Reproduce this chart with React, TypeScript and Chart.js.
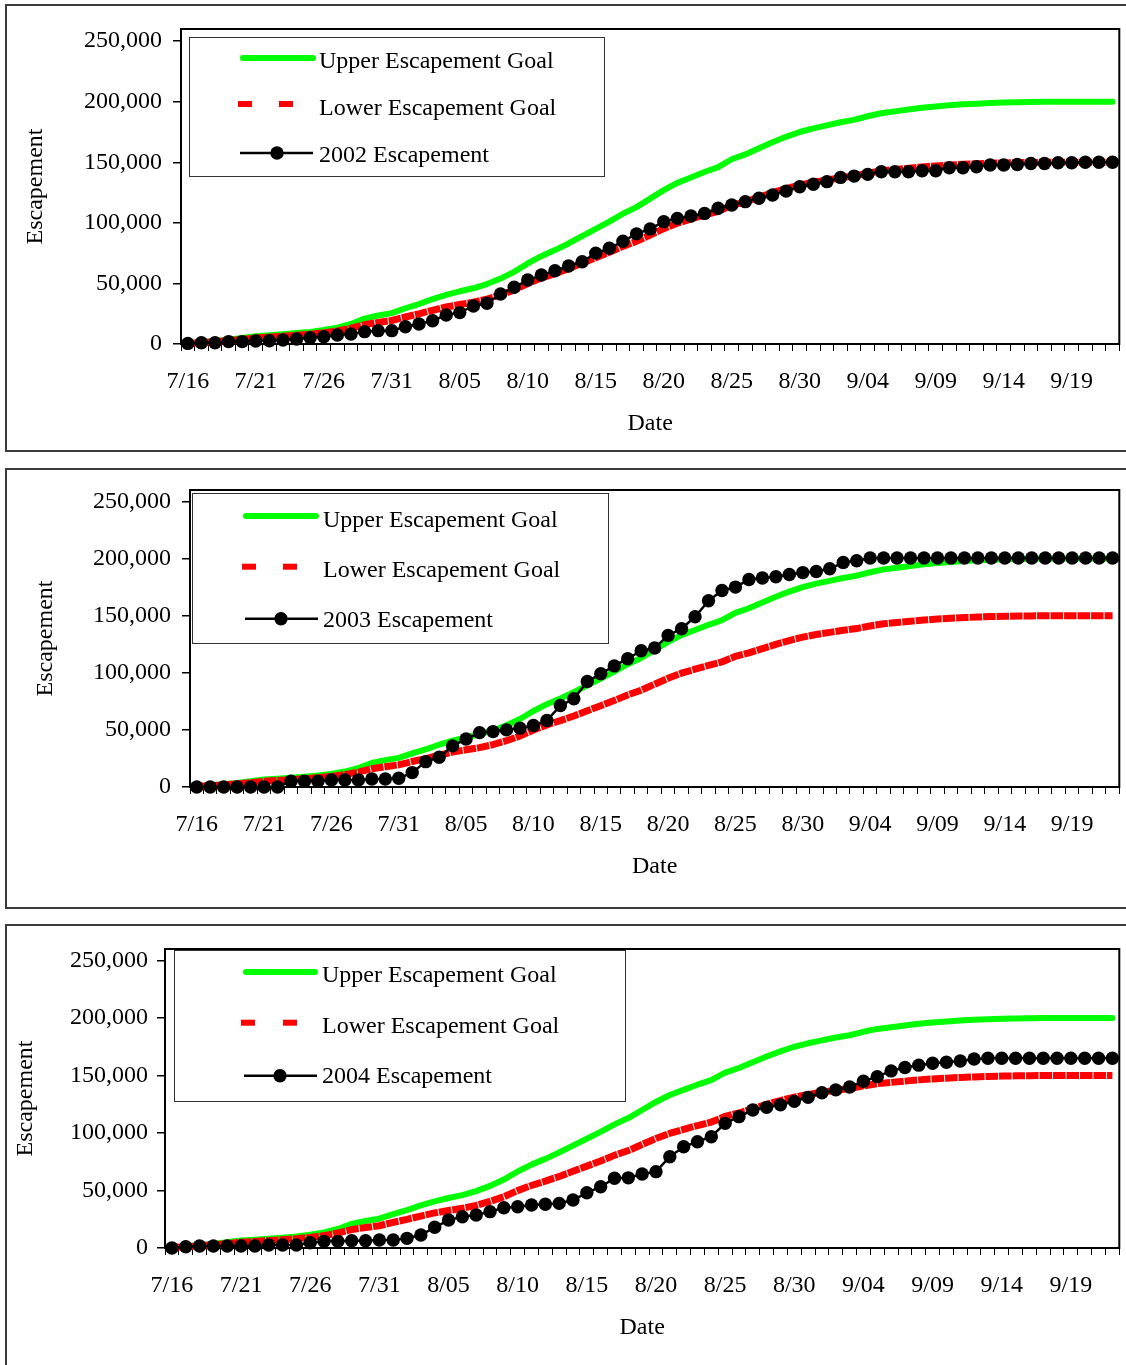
import React, { useEffect, useRef } from 'react';
import { Chart, registerables } from 'chart.js';

Chart.register(...registerables);

// ---------------- DATA ----------------
const CATEGORIES: string[] = [
  '7/16', '7/17', '7/18', '7/19', '7/20', '7/21', '7/22', '7/23', '7/24', '7/25',
  '7/26', '7/27', '7/28', '7/29', '7/30', '7/31',
  '8/01', '8/02', '8/03', '8/04', '8/05', '8/06', '8/07', '8/08', '8/09', '8/10',
  '8/11', '8/12', '8/13', '8/14', '8/15', '8/16', '8/17', '8/18', '8/19', '8/20',
  '8/21', '8/22', '8/23', '8/24', '8/25', '8/26', '8/27', '8/28', '8/29', '8/30', '8/31',
  '9/01', '9/02', '9/03', '9/04', '9/05', '9/06', '9/07', '9/08', '9/09', '9/10',
  '9/11', '9/12', '9/13', '9/14', '9/15', '9/16', '9/17', '9/18', '9/19', '9/20',
  '9/21', '9/22',
];

const TICK_LABELS: string[] = [
  '7/16', '7/21', '7/26', '7/31', '8/05', '8/10', '8/15', '8/20', '8/25', '8/30',
  '9/04', '9/09', '9/14', '9/19',
];

const Y_TICK_VALUES: number[] = [0, 50000, 100000, 150000, 200000, 250000];

const UPPER_GOAL: number[] = [
  500, 1500, 2500, 3500, 5000, 6500, 7200, 8000, 9000, 10000,
  11500, 13500, 16500, 21000, 23500, 25500, 29500, 33000, 37000, 40500,
  43500, 46000, 49500, 54000, 59500, 66500, 72500, 77500, 83000, 89000,
  95000, 101000, 107500, 113000, 120000, 127000, 133000, 137500, 142000, 146000,
  152500, 156500, 161500, 166500, 171000, 175000, 178000, 180500, 183000, 185000,
  188000, 190500, 192000, 193500, 195000, 196000, 197000, 197800, 198400, 198900,
  199300, 199600, 199800, 200000, 200000, 200000, 200000, 200000, 200000,
];

const LOWER_GOAL: number[] = [
  400, 1100, 1900, 2700, 3800, 5000, 5700, 6400, 7200, 8100,
  9200, 10800, 13000, 16000, 17800, 19400, 22300, 24900, 27800, 30500,
  32600, 34500, 37100, 40500, 44600, 49900, 54400, 58100, 62200, 66700,
  71200, 75700, 80600, 84700, 90000, 95200, 99700, 103100, 106500, 109500,
  114400, 117400, 121100, 124900, 128200, 131200, 133500, 135400, 137200, 138700,
  141000, 142900, 144000, 145100, 146200, 147000, 147700, 148300, 148800, 149200,
  149500, 149700, 149800, 150000, 150000, 150000, 150000, 150000, 150000,
];

const ESC_2002: number[] = [
  500, 1000, 1000, 2000, 2000, 2500, 2700, 3300, 4100, 5200,
  6000, 7400, 8300, 10200, 11000, 11000, 14300, 16500, 19200, 23900,
  25900, 31400, 33600, 41300, 46800, 52800, 56900, 60500, 64400, 67900,
  75000, 79000, 84800, 90900, 95000, 100900, 103700, 105600, 107800, 112000,
  114700, 117500, 120300, 123000, 126200, 129800, 131800, 134000, 137500, 138600,
  140000, 142200, 142200, 142200, 143000, 143000, 145500, 145500, 146300, 147700,
  147700, 148200, 149000, 149000, 149600, 149600, 150000, 150000, 150000,
];

const ESC_2003: number[] = [
  0, 0, 0, 0, 0, 0, 0, 5000, 5000, 5000,
  6100, 6100, 6100, 7000, 7000, 7600, 12600, 22200, 26000, 36000,
  42000, 47600, 48500, 50000, 51500, 53800, 58200, 71300, 77200, 92400,
  99100, 106000, 112300, 119300, 121700, 132700, 138600, 149000, 163000, 172000,
  175000, 181600, 183000, 184000, 186000, 187700, 188600, 191000, 196500, 198000,
  200500, 200500, 200500, 200500, 200500, 200500, 200500, 200500, 200500, 200500,
  200500, 200500, 200500, 200500, 200500, 200500, 200500, 200500, 200500,
];

const ESC_2004: number[] = [
  0, 1100, 1700, 1700, 1700, 1700, 1700, 2600, 2600, 2600,
  4600, 5800, 5800, 6400, 6400, 7000, 7000, 8400, 11300, 18000,
  24300, 27200, 28700, 31600, 35000, 35900, 37400, 38000, 38800, 41700,
  48000, 53300, 60600, 61000, 64300, 66400, 79400, 88000, 92400, 96800,
  108400, 114200, 120000, 122300, 124500, 127500, 131000, 135000, 137500, 140000,
  145000, 149000, 154000, 157000, 159000, 160600, 161500, 162600, 164300, 165000,
  165000, 165000, 165000, 165000, 165000, 165000, 165000, 165000, 165000,
];

// ---------------- STYLE / LAYOUT ----------------
const FONT_FAMILY = "'Liberation Serif', 'Times New Roman', Times, serif";
const FONT_SIZE = 24;
const GREEN = '#00FF00';
const RED = '#FF0000';
const PAGE_W = 1126;

type LegendSpec = {
  box: [number, number, number, number];
  rows: [number, number, number];
  baselines: [number, number, number];
  green: [number, number];
  red: [number, number];
  black: [number, number, number];
  textX: number;
};

type PanelSpec = {
  top: number;
  height: number;
  plotLeft: number;
  plotRight: number;
  plotTop: number;
  plotBottom: number;
  yLabelPad: number;
  yTitlePad: number;
  dateTitlePad: number;
  escLabel: string;
  esc: number[];
  legend: LegendSpec;
};

const PANELS: PanelSpec[] = [
  {
    top: 0, height: 460,
    plotLeft: 181, plotRight: 1122, plotTop: 29, plotBottom: 344,
    yLabelPad: 11, yTitlePad: 21, dateTitlePad: 22,
    escLabel: '2002 Escapement', esc: ESC_2002,
    legend: {
      box: [189, 37, 415, 139],
      rows: [58, 104, 153], baselines: [68, 115, 162],
      green: [240, 316], red: [238, 279], black: [240, 313, 277], textX: 319,
    },
  },
  {
    top: 460, height: 456,
    plotLeft: 190, plotRight: 1122, plotTop: 30, plotBottom: 327,
    yLabelPad: 11, yTitlePad: 31, dateTitlePad: 34.6,
    escLabel: '2003 Escapement', esc: ESC_2003,
    legend: {
      box: [192, 33, 416, 150],
      rows: [56, 106.7, 158.7], baselines: [66.7, 116.7, 166.7],
      green: [243, 319], red: [242, 283], black: [245, 318, 281], textX: 323,
    },
  },
  {
    top: 916, height: 449,
    plotLeft: 165, plotRight: 1124, plotTop: 33, plotBottom: 332,
    yLabelPad: 9, yTitlePad: 11.6, dateTitlePad: 22.6,
    escLabel: '2004 Escapement', esc: ESC_2004,
    legend: {
      box: [174, 34, 451, 151],
      rows: [56, 106.7, 159.7], baselines: [65.7, 117.3, 167.3],
      green: [243, 318], red: [241, 283], black: [244, 317, 280], textX: 322,
    },
  },
];

const plotBorderPlugin = {
  id: 'plotBorder',
  beforeDatasetsDraw(chart: any) {
    const { ctx, chartArea } = chart;
    const { left, top, right, bottom } = chartArea;
    ctx.save();
    ctx.strokeStyle = '#000';
    ctx.lineWidth = 2;
    ctx.strokeRect(left, top, right - left, bottom - top);
    ctx.restore();
  },
};

function makeLegendPlugin(lg: LegendSpec) {
  return {
    id: 'boxLegend',
    afterDraw(chart: any) {
      const ctx: CanvasRenderingContext2D = chart.ctx;
      const labels = chart.data.datasets.map((d: any) => d.label);
      const [bx, by, bw, bh] = lg.box;
      ctx.save();
      ctx.fillStyle = '#fff';
      ctx.fillRect(bx, by, bw, bh);
      ctx.strokeStyle = '#333';
      ctx.lineWidth = 1;
      ctx.strokeRect(bx + 0.5, by + 0.5, bw, bh);

      // green solid line
      ctx.strokeStyle = GREEN;
      ctx.lineWidth = 6;
      ctx.lineCap = 'round';
      ctx.beginPath();
      ctx.moveTo(lg.green[0] + 3, lg.rows[0]);
      ctx.lineTo(lg.green[1] - 3, lg.rows[0]);
      ctx.stroke();

      // red dashes
      ctx.fillStyle = RED;
      ctx.fillRect(lg.red[0], lg.rows[1] - 3, 14, 6);
      ctx.fillRect(lg.red[1], lg.rows[1] - 3, 14, 6);

      // black line with marker
      ctx.strokeStyle = '#000';
      ctx.lineWidth = 2.5;
      ctx.lineCap = 'butt';
      ctx.beginPath();
      ctx.moveTo(lg.black[0], lg.rows[2]);
      ctx.lineTo(lg.black[1], lg.rows[2]);
      ctx.stroke();
      ctx.fillStyle = '#000';
      ctx.beginPath();
      ctx.arc(lg.black[2], lg.rows[2], 6.7, 0, Math.PI * 2);
      ctx.fill();

      // texts
      ctx.font = `${FONT_SIZE}px ${FONT_FAMILY}`;
      ctx.fillStyle = '#000';
      ctx.textAlign = 'left';
      ctx.textBaseline = 'alphabetic';
      for (let i = 0; i < 3; i++) {
        ctx.fillText(labels[i], lg.textX, lg.baselines[i]);
      }
      ctx.restore();
    },
  };
}

function Panel({ spec }: { spec: PanelSpec }) {
  const ref = useRef<HTMLCanvasElement>(null);

  useEffect(() => {
    const canvas = ref.current;
    if (!canvas) return;
    const font = { family: FONT_FAMILY, size: FONT_SIZE, weight: 'normal' as const };
    const H = spec.height;
    const chart = new Chart(canvas, {
      type: 'line',
      data: {
        labels: CATEGORIES,
        datasets: [
          {
            label: 'Upper Escapement Goal',
            data: UPPER_GOAL,
            borderColor: GREEN,
            backgroundColor: GREEN,
            borderWidth: 6,
            borderCapStyle: 'round',
            borderJoinStyle: 'round',
            pointRadius: 0,
            pointHoverRadius: 0,
            fill: false,
            tension: 0,
            order: 3,
            clip: false,
          } as any,
          {
            label: 'Lower Escapement Goal',
            data: LOWER_GOAL,
            borderColor: RED,
            backgroundColor: RED,
            borderWidth: 7,
            borderDash: [12.5, 1],
            borderCapStyle: 'butt',
            pointRadius: 0,
            pointHoverRadius: 0,
            fill: false,
            tension: 0,
            order: 2,
            clip: false,
          } as any,
          {
            label: spec.escLabel,
            data: spec.esc,
            borderColor: '#000',
            backgroundColor: '#000',
            borderWidth: 2.5,
            pointRadius: 6.7,
            pointHoverRadius: 6.7,
            pointBackgroundColor: '#000',
            pointBorderColor: '#000',
            pointBorderWidth: 0,
            fill: false,
            tension: 0,
            order: 1,
            clip: false,
          } as any,
        ],
      },
      options: {
        animation: false,
        responsive: false,
        devicePixelRatio: 1,
        events: [],
        layout: {
          padding: { left: 0, top: spec.plotTop, right: PAGE_W - spec.plotRight, bottom: 0 },
        },
        plugins: {
          legend: { display: false },
          tooltip: { enabled: false },
          title: { display: false },
        },
        scales: {
          x: {
            type: 'category',
            offset: true,
            grid: {
              display: true,
              drawOnChartArea: false,
              drawTicks: true,
              tickLength: 7,
              offset: true,
              color: '#000',
              lineWidth: 1,
            },
            border: { display: true, color: '#000', width: 2 },
            ticks: {
              autoSkip: false,
              maxRotation: 0,
              minRotation: 0,
              padding: 16,
              color: '#000',
              font,
              callback: function (this: any, value: any) {
                const lab = this.getLabelForValue(value);
                return TICK_LABELS.includes(lab) ? lab : '';
              },
            },
            title: {
              display: true,
              text: 'Date',
              color: '#000',
              font,
              padding: { top: 0, bottom: spec.dateTitlePad },
            },
            afterFit: (scale: any) => {
              scale.height = H - spec.plotBottom;
              scale.paddingLeft = 0;
              scale.paddingRight = 0;
            },
          },
          y: {
            type: 'linear',
            min: 0,
            max: 260000,
            ticks: {
              stepSize: 50000,
              padding: spec.yLabelPad,
              color: '#000',
              font,
              callback: (v: any) => Number(v).toLocaleString('en-US'),
            },
            afterBuildTicks: (scale: any) => {
              scale.ticks = Y_TICK_VALUES.map((v) => ({ value: v }));
            },
            grid: {
              display: true,
              drawOnChartArea: false,
              drawTicks: true,
              tickLength: 8,
              color: '#000',
              lineWidth: 1.5,
            },
            border: { display: true, color: '#000', width: 2 },
            title: {
              display: true,
              text: 'Escapement',
              color: '#000',
              font,
              padding: { top: spec.yTitlePad, bottom: 0 },
            },
            afterFit: (scale: any) => {
              scale.width = spec.plotLeft;
              scale.paddingTop = 0;
              scale.paddingBottom = 0;
            },
          },
        },
      } as any,
      plugins: [plotBorderPlugin, makeLegendPlugin(spec.legend)],
    });
    return () => chart.destroy();
  }, [spec]);

  return (
    <canvas
      ref={ref}
      width={PAGE_W}
      height={spec.height}
      style={{ position: 'absolute', left: 0, top: spec.top, width: PAGE_W, height: spec.height }}
    />
  );
}

const FRAMES = [
  { top: 4, height: 448 },
  { top: 468, height: 441 },
  { top: 924, height: 460 },
];

export default function App() {
  return (
    <div
      style={{
        position: 'absolute',
        left: 0,
        top: 0,
        width: PAGE_W,
        height: 1365,
        overflow: 'hidden',
        background: '#fff',
      }}
    >
      {FRAMES.map((f, i) => (
        <div
          key={'f' + i}
          style={{
            position: 'absolute',
            left: 5,
            top: f.top,
            width: 1140,
            height: f.height,
            border: '2px solid #3c3c3c',
            boxSizing: 'border-box',
          }}
        />
      ))}
      {PANELS.map((p, i) => (
        <Panel key={i} spec={p} />
      ))}
    </div>
  );
}
